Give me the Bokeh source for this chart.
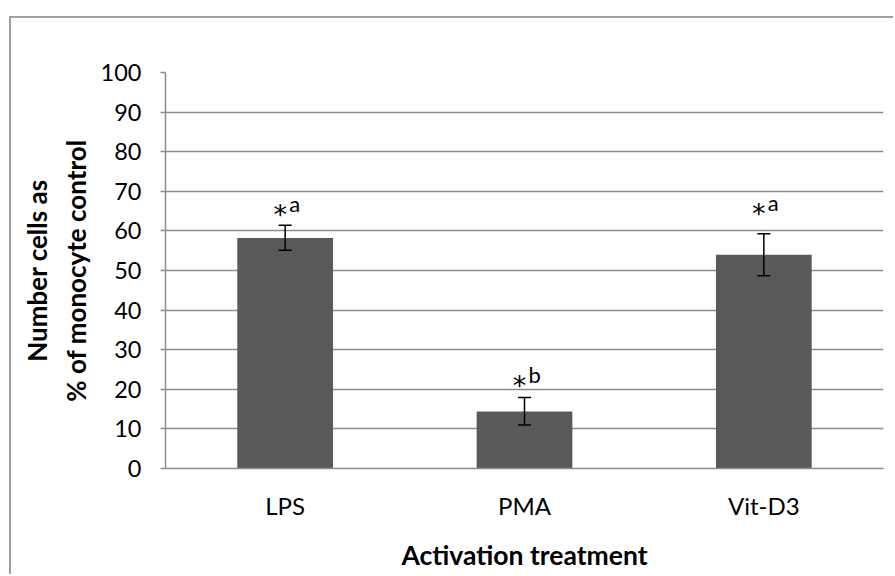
from bokeh.plotting import figure
from bokeh.models import FactorRange, Whisker, ColumnDataSource, FixedTicker, Range1d
from bokeh.core.properties import value
from bokeh.embed import file_html
from bokeh.resources import INLINE

categories = ["LPS", "PMA", "Vit-D3"]
means = [58.2, 14.4, 54.0]
lower = [55.1, 11.0, 48.7]
upper = [61.4, 17.9, 59.3]
sig_letters = ["a", "b", "a"]
label_y = [65.0, 21.8, 65.2]
y_ticks = [0, 10, 20, 30, 40, 50, 60, 70, 80, 90, 100]

FONT = "Lato"
GRID = "#8c8c8c"

src = ColumnDataSource(dict(cat=categories, mean=means, lo=lower, hi=upper,
                            letter=sig_letters, ly=label_y, star=["*"] * 3))

p = figure(width=884, height=558, x_range=FactorRange(*categories, range_padding=0),
           y_range=Range1d(0, 100), output_backend="svg", toolbar_location=None,
           min_border_left=154, min_border_right=12, min_border_top=54, min_border_bottom=108,
           styles={"margin-left": "9px", "margin-top": "16px",
                   "border-left": "2px solid #a0a0a0", "border-top": "2px solid #a0a0a0"})
p.outline_line_color = None
p.background_fill_color = "white"
p.border_fill_color = "white"

p.vbar(x="cat", top="mean", width=0.4, source=src, fill_color="#595959", line_color=None)

w = Whisker(base="cat", upper="hi", lower="lo", source=src, line_color="black", line_width=1.5,
            level="overlay")
for h in (w.upper_head, w.lower_head):
    h.size = 13
    h.line_width = 1.5
    h.line_color = "black"
p.add_layout(w)

p.text(x="cat", y="ly", text="star", source=src, text_font=value("DejaVu Sans"), text_font_size="27px",
       text_align="center", text_baseline="middle", x_offset=-5, y_offset=3, text_color="black")
p.text(x="cat", y="ly", text="letter", source=src, text_font=value(FONT), text_font_size="22px",
       text_align="left", text_baseline="middle", x_offset=4, y_offset=-8, text_color="black")

p.xgrid.grid_line_color = None
p.ygrid.grid_line_color = GRID
p.ygrid.grid_line_width = 1.5
p.yaxis.ticker = FixedTicker(ticks=y_ticks)
p.yaxis.minor_tick_line_color = None
p.yaxis.major_tick_out = 5
p.yaxis.major_tick_in = 0
p.yaxis.major_tick_line_color = GRID
p.yaxis.major_tick_line_width = 1.5
p.yaxis.axis_line_color = GRID
p.yaxis.axis_line_width = 1.5
p.yaxis.major_label_text_font = FONT
p.yaxis.major_label_text_font_size = "23.5px"
p.yaxis.major_label_text_color = "black"
p.yaxis.major_label_standoff = 19
p.yaxis.axis_label = "Number cells as\n% of monocyte control"
p.yaxis.axis_label_text_font = FONT
p.yaxis.axis_label_text_font_style = "bold"
p.yaxis.axis_label_text_font_size = "26px"
p.yaxis.axis_label_text_color = "black"
p.yaxis.axis_label_standoff = 6

p.xaxis.major_tick_line_color = None
p.xaxis.minor_tick_line_color = None
p.xaxis.axis_line_color = GRID
p.xaxis.axis_line_width = 1.5
p.xaxis.major_label_text_font = FONT
p.xaxis.major_label_text_font_size = "24px"
p.xaxis.major_label_text_color = "black"
p.xaxis.major_label_standoff = 16
p.xaxis.axis_label = "Activation treatment"
p.xaxis.axis_label_text_font = FONT
p.xaxis.axis_label_text_font_style = "bold"
p.xaxis.axis_label_text_font_size = "26.5px"
p.xaxis.axis_label_text_color = "black"
p.xaxis.axis_label_standoff = 16

open("out.html", "w").write(file_html(p, INLINE))
